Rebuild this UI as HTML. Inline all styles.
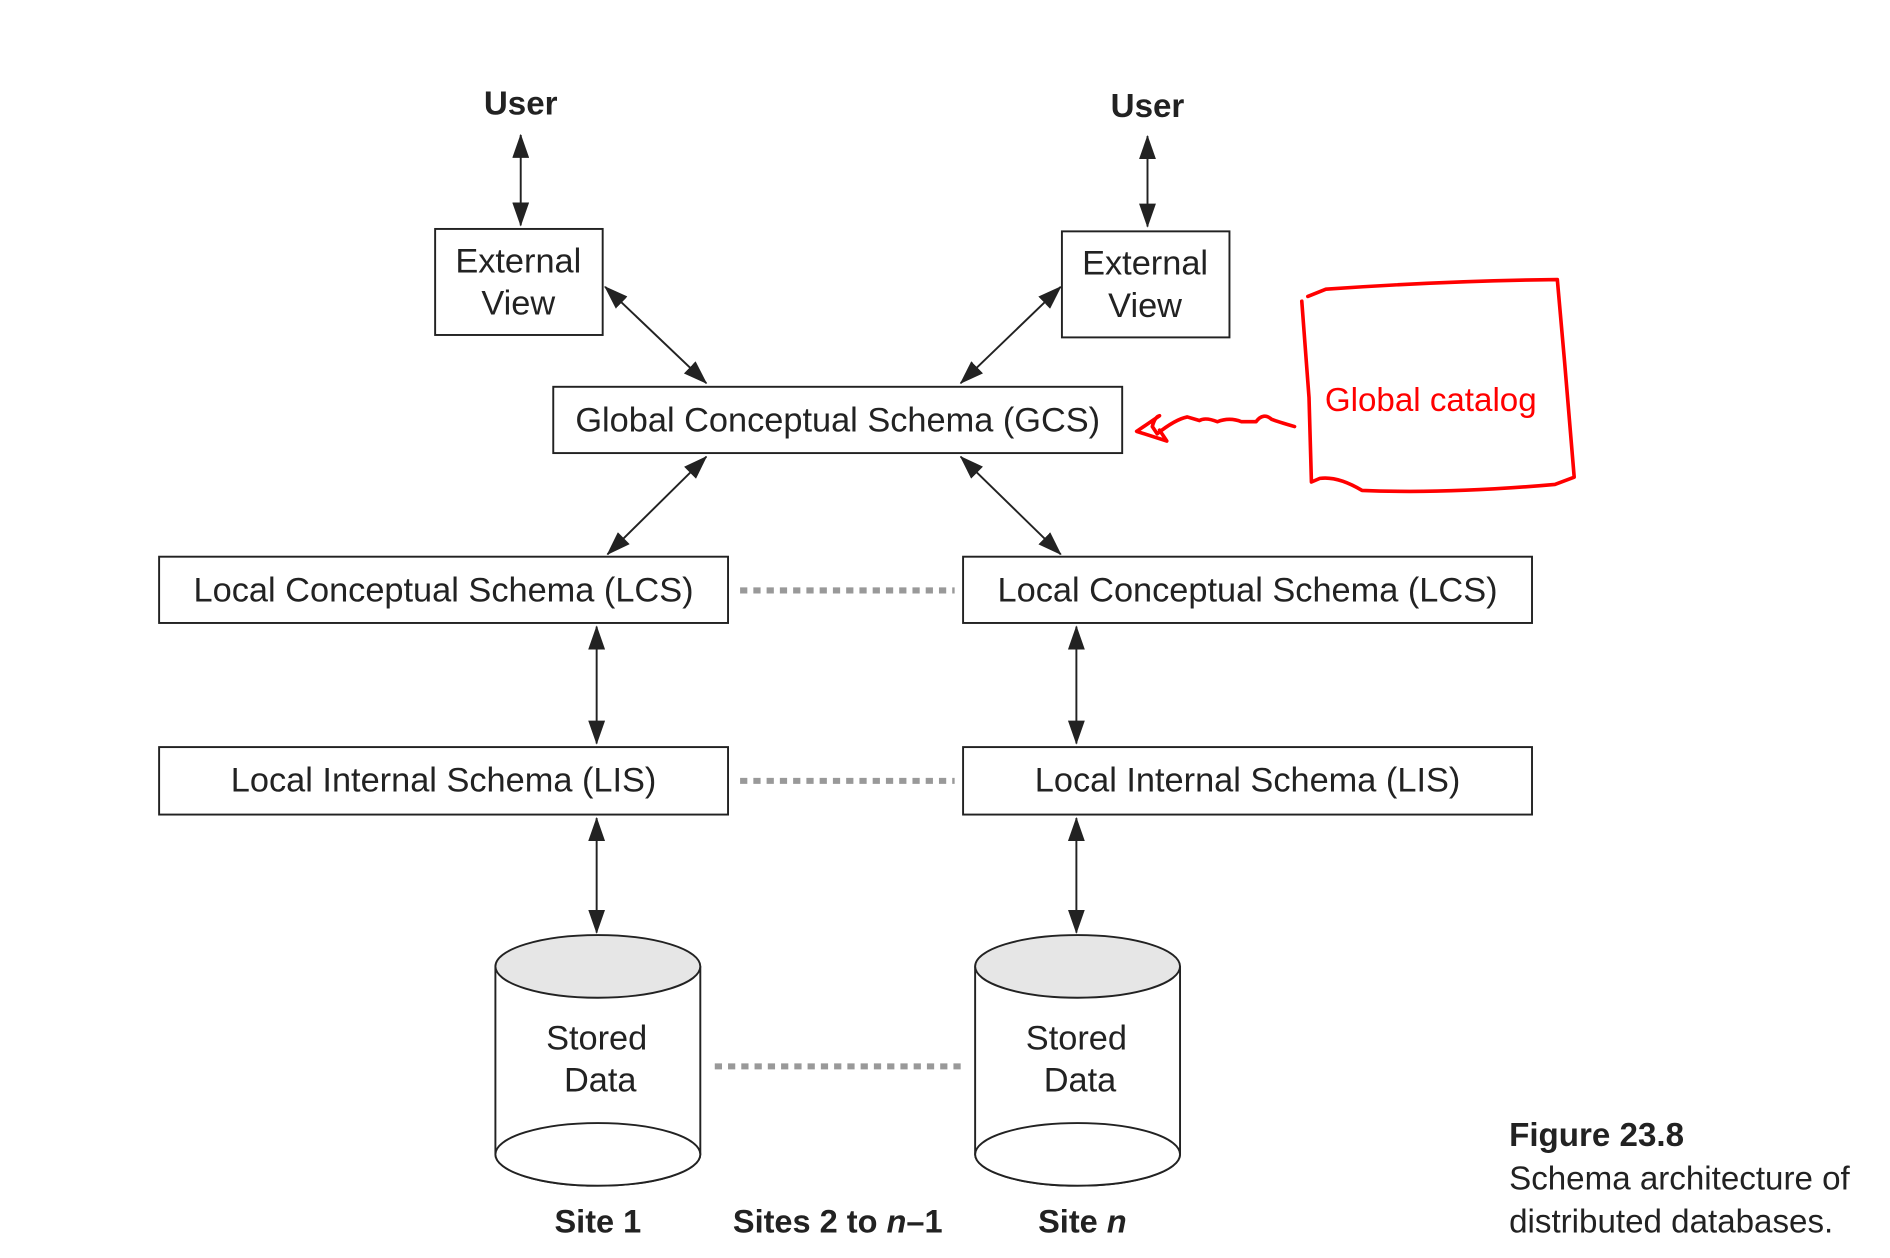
<!DOCTYPE html>
<html><head><meta charset="utf-8"><style>html,body{margin:0;padding:0;background:#fff}svg{display:block}</style></head>
<body>
<svg width="1890" height="1258" viewBox="0 0 1568 1044" preserveAspectRatio="none" xmlns="http://www.w3.org/2000/svg" font-family="Liberation Sans, sans-serif">
<defs>
<marker id="a" viewBox="0 0 20 14" refX="19" refY="7" markerWidth="20" markerHeight="14" markerUnits="userSpaceOnUse" orient="auto-start-reverse"><path d="M0,0 L20,7 L0,14 z" fill="#222"/></marker>
</defs>
<g fill="#222" font-size="27.5" text-anchor="middle">
<text x="432" y="95" font-weight="bold">User</text>
<text x="952" y="97" font-weight="bold">User</text>
</g>
<g stroke="#222" stroke-width="1.6" marker-start="url(#a)" marker-end="url(#a)">
<line x1="432" y1="112" x2="432" y2="187"/>
<line x1="952" y1="113" x2="952" y2="188"/>
<line x1="502" y1="238" x2="586" y2="318"/>
<line x1="880" y1="238" x2="797" y2="318"/>
<line x1="586" y1="379" x2="504" y2="460"/>
<line x1="797" y1="379" x2="880" y2="460"/>
<line x1="495" y1="520" x2="495" y2="617"/>
<line x1="495" y1="679" x2="495" y2="774"/>
<line x1="893" y1="520" x2="893" y2="617"/>
<line x1="893" y1="679" x2="893" y2="774"/>
</g>
<g fill="#fff" stroke="#222" stroke-width="1.6">
<rect x="361" y="190" width="139" height="88"/>
<rect x="881" y="192" width="139" height="88"/>
<rect x="459" y="321" width="472" height="55"/>
<rect x="132" y="462" width="472" height="55"/>
<rect x="799" y="462" width="472" height="55"/>
<rect x="132" y="620" width="472" height="56"/>
<rect x="799" y="620" width="472" height="56"/>
</g>
<g stroke="#999" stroke-width="5" stroke-dasharray="6 5">
<line x1="614" y1="490" x2="792" y2="490"/>
<line x1="614" y1="648" x2="792" y2="648"/>
<line x1="593" y1="885" x2="798" y2="885"/>
</g>
<g stroke="#222" stroke-width="1.6">
<path d="M411,802 V958 A85,26 0 0 0 581,958 V802" fill="#fff"/>
<ellipse cx="496" cy="958" rx="85" ry="26" fill="#fff"/>
<ellipse cx="496" cy="802" rx="85" ry="26" fill="#e6e6e6"/>
<path d="M809,802 V958 A85,26 0 0 0 979,958 V802" fill="#fff"/>
<ellipse cx="894" cy="958" rx="85" ry="26" fill="#fff"/>
<ellipse cx="894" cy="802" rx="85" ry="26" fill="#e6e6e6"/>
</g>
<g fill="#222" font-size="28.5" text-anchor="middle">
<text x="430" y="226">External</text><text x="430" y="261">View</text>
<text x="950" y="228">External</text><text x="950" y="263">View</text>
<text x="695" y="358">Global Conceptual Schema (GCS)</text>
<text x="368" y="499">Local Conceptual Schema (LCS)</text>
<text x="1035" y="499">Local Conceptual Schema (LCS)</text>
<text x="368" y="657">Local Internal Schema (LIS)</text>
<text x="1035" y="657">Local Internal Schema (LIS)</text>
<text x="495" y="871">Stored</text><text x="498" y="906">Data</text>
<text x="893" y="871">Stored</text><text x="896" y="906">Data</text>
</g>
<g fill="#222" font-size="27" text-anchor="middle" font-weight="bold">
<text x="496" y="1023">Site 1</text>
<text x="695" y="1023">Sites 2 to <tspan font-style="italic">n</tspan>–1</text>
<text x="898" y="1023">Site <tspan font-style="italic">n</tspan></text>
</g>
<g fill="#222" font-size="27.5">
<text x="1252" y="951" font-weight="bold">Figure 23.8</text>
<text x="1252" y="987">Schema architecture of</text>
<text x="1252" y="1023">distributed databases.</text>
</g>
<g stroke="red" stroke-width="3" fill="none" stroke-linecap="round" stroke-linejoin="round">
<path d="M1085,246 L1100,240 Q1200,233 1292,232 L1298,300 L1306,396 L1290,402 Q1200,410 1130,407 Q1110,395 1095,397 L1088,400 L1086,330 L1080,250"/>
<path d="M1074,354 Q1060,350 1055,348 Q1048,342 1042,350 L1030,350 Q1020,346 1010,350 Q1000,346 995,349 L985,346 Q975,348 960,360 L956,354 Q958,346 962,345 L943,358 L968,366 L962,357"/>
</g>
<text x="1187" y="341" fill="red" font-size="27.5" text-anchor="middle">Global catalog</text>
</svg>
</body></html>
